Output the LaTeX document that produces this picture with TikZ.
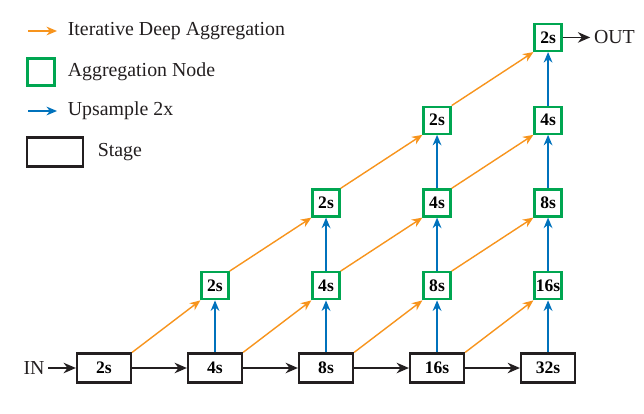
\documentclass[tikz,border=0pt]{standalone}
\usepackage{fontspec}
\setmainfont{Liberation Serif}
\usepackage{tikz}
\usetikzlibrary{arrows.meta,positioning}
\definecolor{idaorange}{RGB}{247,148,29}
\definecolor{agggreen}{RGB}{0,166,81}
\definecolor{upblue}{RGB}{0,114,188}
\definecolor{stageblack}{RGB}{35,31,32}
\tikzset{
  stagebox/.style={
    rectangle, draw=stageblack, line width=1.3pt, fill=white,
    minimum width=1.08cm, minimum height=0.58cm,
    font=\fontsize{10}{12}\selectfont\bfseries, inner sep=1pt
  },
  aggbox/.style={
    rectangle, draw=agggreen, line width=1.3pt, fill=white,
    minimum size=0.54cm, font=\fontsize{10}{12}\selectfont\bfseries, inner sep=0.5pt
  },
  idaarrow/.style={-{Stealth[length=6pt,width=5pt]}, line width=0.8pt, draw=idaorange},
  uparrow/.style={-{Stealth[length=6pt,width=5pt]}, line width=0.8pt, draw=upblue},
  stagearrow/.style={-{Stealth[length=7pt,width=6pt]}, line width=0.9pt, draw=stageblack},
  plainlabel/.style={inner sep=2pt, text=stageblack, font=\fontsize{11.3}{13}\selectfont},
}
\begin{document}
\begin{tikzpicture}[x=0.02cm, y=0.02cm, node distance=1.04cm and 1.095cm]
  \useasboundingbox (0,0) rectangle (644,413);
  % legend
  \coordinate (lg1a) at (28,382); \coordinate (lg1b) at (57,382);
  \node (lg1) [plainlabel, anchor=west] at (64,382) {Iterative Deep Aggregation};
  \node (lgagg) [aggbox] at (41,341) {};
  \node (lg2) [plainlabel, anchor=west] at (64,341) {Aggregation Node};
  \coordinate (lg3a) at (28,302); \coordinate (lg3b) at (57,302);
  \node (lg3) [plainlabel, anchor=west] at (64,302) {Upsample 2x};
  \node (lgstage) [stagebox, minimum width=1.12cm] at (55,261) {};
  \node (lg4) [plainlabel, anchor=west] at (94,261) {Stage};
  \draw[idaarrow] (lg1a)--(lg1b); \draw[uparrow] (lg3a)--(lg3b);
  % stages
  \node (s1) [stagebox] at (104,45) {2s};
  \node (s2) [stagebox, right=of s1] {4s};
  \node (s3) [stagebox, right=of s2] {8s};
  \node (s4) [stagebox, right=of s3] {16s};
  \node (s5) [stagebox, right=of s4] {32s};
  \node (in) [plainlabel, left=0.55cm of s1] {IN};
  % aggregation nodes
  \node (a1) [aggbox, above=of s2] {2s};
  \node (b1) [aggbox, above=of s3] {4s};
  \node (b2) [aggbox, above=1.07cm of b1] {2s};
  \node (c1) [aggbox, above=of s4] {8s};
  \node (c2) [aggbox, above=1.07cm of c1] {4s};
  \node (c3) [aggbox, above=1.07cm of c2] {2s};
  \node (d1) [aggbox, above=of s5] {16s};
  \node (d2) [aggbox, above=1.07cm of d1] {8s};
  \node (d3) [aggbox, above=1.07cm of d2] {4s};
  \node (d4) [aggbox, above=1.07cm of d3] {2s};
  \node (out) [plainlabel, right=0.55cm of d4] {OUT};
  % stage chain
  \draw[stagearrow] (in)--(s1); \draw[stagearrow] (s1)--(s2); \draw[stagearrow] (s2)--(s3);
  \draw[stagearrow] (s3)--(s4); \draw[stagearrow] (s4)--(s5); \draw[stagearrow] (d4)--(out);
  % upsampling
  \draw[uparrow] (s2)--(a1);
  \draw[uparrow] (s3)--(b1); \draw[uparrow] (b1)--(b2);
  \draw[uparrow] (s4)--(c1); \draw[uparrow] (c1)--(c2); \draw[uparrow] (c2)--(c3);
  \draw[uparrow] (s5)--(d1); \draw[uparrow] (d1)--(d2); \draw[uparrow] (d2)--(d3); \draw[uparrow] (d3)--(d4);
  % iterative deep aggregation
  \draw[idaarrow] (s1.north east)--(a1.south west); \draw[idaarrow] (a1.north east)--(b2.south west);
  \draw[idaarrow] (b2.north east)--(c3.south west); \draw[idaarrow] (c3.north east)--(d4.south west);
  \draw[idaarrow] (s2.north east)--(b1.south west); \draw[idaarrow] (b1.north east)--(c2.south west);
  \draw[idaarrow] (c2.north east)--(d3.south west);
  \draw[idaarrow] (s3.north east)--(c1.south west); \draw[idaarrow] (c1.north east)--(d2.south west);
  \draw[idaarrow] (s4.north east)--(d1.south west);
\end{tikzpicture}
\end{document}
